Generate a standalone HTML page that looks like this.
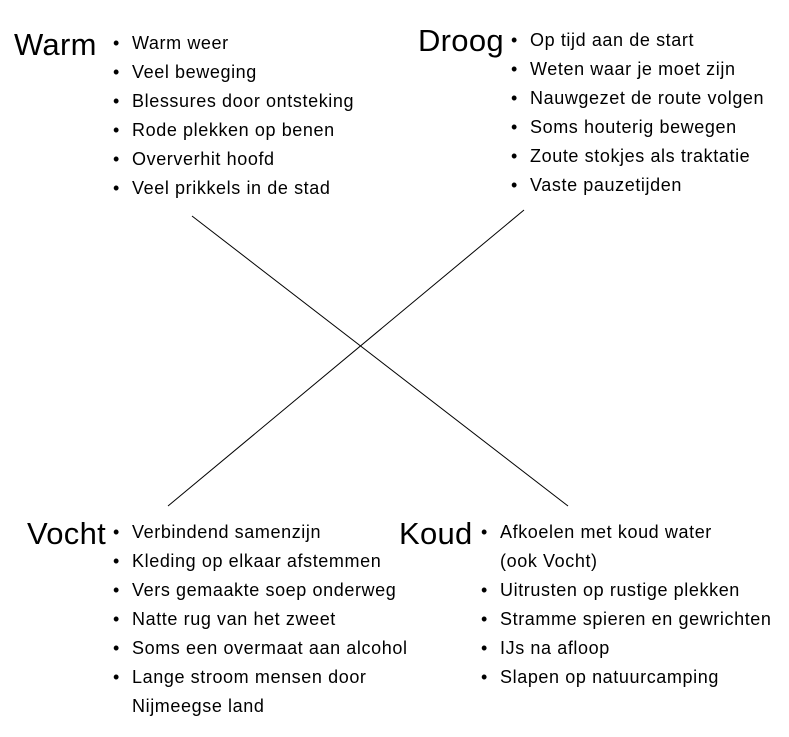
<!DOCTYPE html>
<html><head><meta charset="utf-8"><style>
body{margin:0;width:789px;height:737px;background:#fff;position:relative;font-family:"Liberation Sans",sans-serif;color:#000;overflow:hidden}
.t{position:absolute;font-size:31px;line-height:34px;letter-spacing:0.3px}
ul{position:absolute;margin:0;padding:0;list-style:none;font-size:18px;letter-spacing:0.6px}
li{height:29px;line-height:29px;position:relative;white-space:nowrap}
li:before{content:"•";position:absolute;left:-19px}
li.c:before{content:""}
</style></head><body>
<svg width="789" height="737" style="position:absolute;left:0;top:0">
<line x1="192" y1="216" x2="568" y2="506" stroke="#000" stroke-width="1"/>
<line x1="524" y1="210" x2="168" y2="506" stroke="#000" stroke-width="1"/>
</svg>
<div class="t" style="left:14px;top:28px">Warm</div>
<ul style="left:132px;top:29px">
<li>Warm weer</li><li>Veel beweging</li><li>Blessures door ontsteking</li><li>Rode plekken op benen</li><li>Oververhit hoofd</li><li>Veel prikkels in de stad</li></ul>
<div class="t" style="left:418px;top:24px">Droog</div>
<ul style="left:530px;top:26px">
<li>Op tijd aan de start</li><li>Weten waar je moet zijn</li><li>Nauwgezet de route volgen</li><li>Soms houterig bewegen</li><li>Zoute stokjes als traktatie</li><li>Vaste pauzetijden</li></ul>
<div class="t" style="left:27px;top:517px">Vocht</div>
<ul style="left:132px;top:518px">
<li>Verbindend samenzijn</li><li>Kleding op elkaar afstemmen</li><li>Vers gemaakte soep onderweg</li><li>Natte rug van het zweet</li><li>Soms een overmaat aan alcohol</li><li>Lange stroom mensen door</li><li class="c">Nijmeegse land</li></ul>
<div class="t" style="left:399px;top:517px">Koud</div>
<ul style="left:500px;top:518px">
<li>Afkoelen met koud water</li><li class="c">(ook Vocht)</li><li>Uitrusten op rustige plekken</li><li>Stramme spieren en gewrichten</li><li>IJs na afloop</li><li>Slapen op natuurcamping</li></ul>
</body></html>
